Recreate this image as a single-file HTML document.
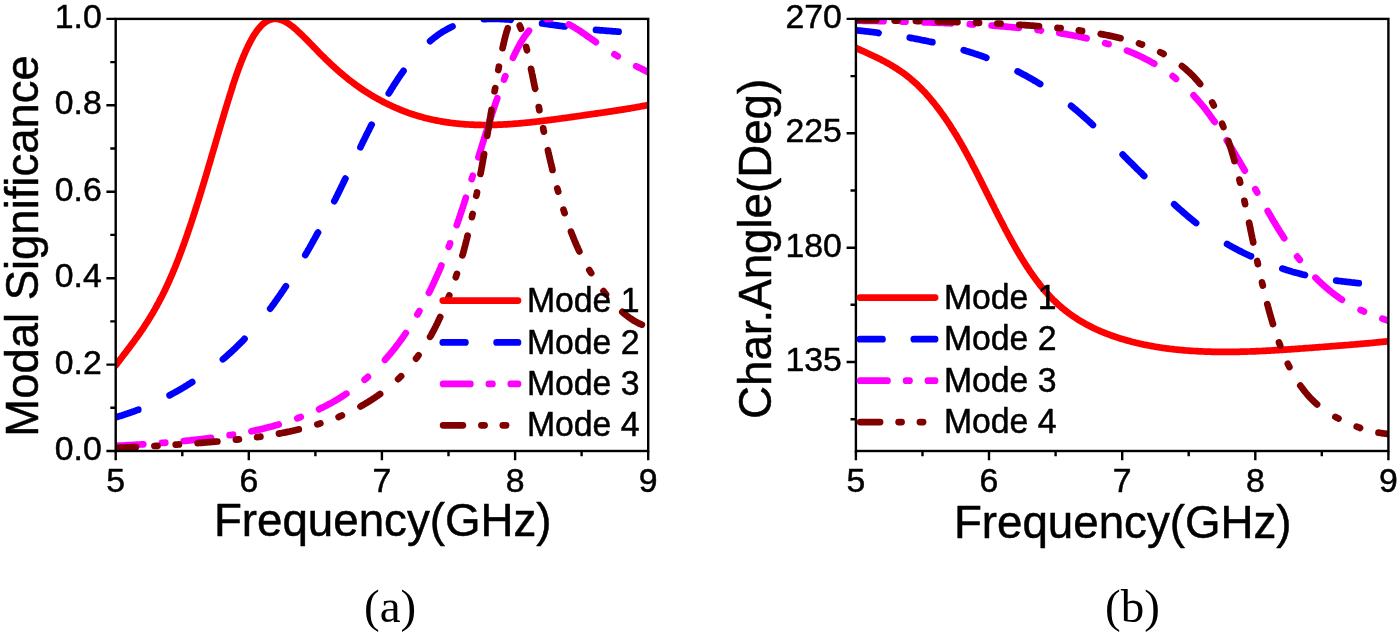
<!DOCTYPE html>
<html lang="en"><head><meta charset="utf-8"><title>Modal significance and characteristic angle</title>
<style>html,body{margin:0;padding:0;background:#fff}body{width:1400px;height:635px;overflow:hidden}svg{display:block}svg text{stroke:#000;stroke-width:.5px;stroke-linejoin:round}svg .cap text{stroke:none}</style>
</head><body>
<svg width="1400" height="635" viewBox="0 0 1400 635" font-family="'Liberation Sans', Arial, sans-serif">
<defs><clipPath id="ca"><rect x="115.7" y="18.9" width="532.5" height="432.1"/></clipPath><clipPath id="cb"><rect x="855.9" y="18.9" width="532.5" height="432.1"/></clipPath></defs>
<rect width="1400" height="635" fill="#fff"/>
<g clip-path="url(#ca)" fill="none" stroke-width="6.7" stroke-linecap="round" stroke-linejoin="round">
<path stroke="#ff0000" d="M115.7 365.4 L116.5 364.3 L117.3 363.3 L118.1 362.2 L118.9 361.2 L119.7 360.1 L120.5 359.1 L121.3 358.0 L122.1 357.0 L122.9 355.9 L123.7 354.9 L124.5 353.8 L125.3 352.8 L126.1 351.8 L126.9 350.7 L127.7 349.7 L128.5 348.6 L129.3 347.6 L130.1 346.5 L130.9 345.4 L131.7 344.4 L132.5 343.3 L133.3 342.2 L134.1 341.1 L134.9 340.0 L135.7 338.9 L136.5 337.8 L137.3 336.7 L138.1 335.6 L138.9 334.5 L139.7 333.3 L140.5 332.2 L141.3 331.0 L142.1 329.8 L142.9 328.7 L143.7 327.5 L144.3 326.5 L145.0 325.4 L145.7 324.4 L146.3 323.4 L147.0 322.4 L147.7 321.3 L148.3 320.3 L149.0 319.2 L149.6 318.1 L150.3 317.0 L151.0 315.9 L151.6 314.8 L152.3 313.7 L153.0 312.6 L153.6 311.4 L154.3 310.3 L155.0 309.1 L155.6 307.9 L156.3 306.7 L157.0 305.5 L157.6 304.3 L158.3 303.1 L159.0 301.8 L159.5 300.8 L160.0 299.8 L160.6 298.8 L161.1 297.7 L161.6 296.7 L162.2 295.7 L162.7 294.6 L163.2 293.5 L163.8 292.4 L164.3 291.4 L164.8 290.3 L165.4 289.2 L165.9 288.0 L166.4 286.9 L167.0 285.8 L167.5 284.6 L168.0 283.5 L168.6 282.3 L169.1 281.1 L169.6 279.9 L170.1 278.7 L170.7 277.5 L171.2 276.3 L171.7 275.1 L172.3 273.8 L172.8 272.6 L173.3 271.3 L173.9 270.0 L174.4 268.8 L174.9 267.5 L175.5 266.2 L176.0 264.8 L176.5 263.5 L176.9 262.5 L177.3 261.5 L177.7 260.5 L178.1 259.5 L178.5 258.4 L178.9 257.4 L179.3 256.3 L179.7 255.3 L180.1 254.2 L180.5 253.2 L180.9 252.1 L181.3 251.0 L181.7 250.0 L182.1 248.9 L182.5 247.8 L182.9 246.7 L183.3 245.6 L183.7 244.5 L184.1 243.4 L184.5 242.3 L184.9 241.1 L185.3 240.0 L185.7 238.9 L186.1 237.7 L186.5 236.6 L186.9 235.4 L187.3 234.3 L187.7 233.1 L188.1 232.0 L188.5 230.8 L188.9 229.6 L189.3 228.4 L189.7 227.2 L190.1 226.1 L190.5 224.9 L190.9 223.7 L191.3 222.5 L191.7 221.2 L192.1 220.0 L192.5 218.8 L192.9 217.6 L193.3 216.4 L193.7 215.1 L194.1 213.9 L194.5 212.6 L194.9 211.4 L195.3 210.1 L195.7 208.9 L196.1 207.6 L196.5 206.4 L196.9 205.1 L197.3 203.8 L197.7 202.6 L198.1 201.3 L198.5 200.0 L198.9 198.7 L199.3 197.4 L199.7 196.1 L200.1 194.8 L200.5 193.5 L200.9 192.2 L201.3 190.9 L201.7 189.6 L202.1 188.3 L202.5 187.0 L202.9 185.7 L203.3 184.3 L203.7 183.0 L204.1 181.7 L204.5 180.4 L204.9 179.0 L205.3 177.7 L205.7 176.4 L206.1 175.0 L206.5 173.7 L206.9 172.3 L207.3 171.0 L207.7 169.6 L208.1 168.3 L208.5 166.9 L208.9 165.6 L209.3 164.2 L209.7 162.9 L210.1 161.5 L210.5 160.2 L210.9 158.8 L211.3 157.4 L211.7 156.1 L212.1 154.7 L212.5 153.3 L212.9 152.0 L213.3 150.6 L213.7 149.3 L214.1 147.9 L214.5 146.5 L214.9 145.2 L215.3 143.8 L215.7 142.4 L216.1 141.1 L216.5 139.7 L216.9 138.3 L217.3 137.0 L217.7 135.6 L218.1 134.2 L218.5 132.9 L218.9 131.5 L219.3 130.1 L219.7 128.8 L220.1 127.4 L220.5 126.1 L220.9 124.7 L221.3 123.3 L221.7 122.0 L222.1 120.6 L222.5 119.3 L222.9 118.0 L223.3 116.6 L223.7 115.3 L224.1 113.9 L224.5 112.6 L224.9 111.3 L225.3 109.9 L225.7 108.6 L226.1 107.3 L226.5 106.0 L226.9 104.7 L227.3 103.3 L227.7 102.0 L228.1 100.7 L228.5 99.5 L228.9 98.2 L229.3 96.9 L229.7 95.6 L230.1 94.3 L230.5 93.1 L230.9 91.8 L231.3 90.6 L231.7 89.3 L232.1 88.1 L232.5 86.9 L232.8 85.6 L233.2 84.4 L233.6 83.2 L234.0 82.0 L234.4 80.8 L234.8 79.6 L235.2 78.5 L235.6 77.3 L236.0 76.1 L236.4 75.0 L236.8 73.8 L237.2 72.7 L237.6 71.6 L238.0 70.5 L238.4 69.4 L238.8 68.3 L239.2 67.2 L239.6 66.1 L240.0 65.1 L240.4 64.0 L240.8 63.0 L241.2 61.9 L241.6 60.9 L242.0 59.9 L242.6 58.6 L243.1 57.3 L243.6 56.0 L244.2 54.7 L244.7 53.5 L245.2 52.2 L245.8 51.0 L246.3 49.8 L246.8 48.7 L247.4 47.5 L247.9 46.4 L248.4 45.3 L249.0 44.2 L249.5 43.2 L250.0 42.2 L250.6 41.1 L251.2 39.9 L251.9 38.7 L252.6 37.6 L253.2 36.4 L253.9 35.3 L254.5 34.3 L255.2 33.3 L256.0 32.1 L256.8 31.0 L257.6 29.9 L258.4 28.9 L259.3 27.8 L260.3 26.7 L261.3 25.6 L262.4 24.6 L263.5 23.6 L264.5 22.8 L265.6 22.0 L266.7 21.4 L267.7 20.8 L268.8 20.3 L269.9 19.8 L270.9 19.5 L272.0 19.2 L273.1 19.0 L274.1 18.9 L275.2 18.9 L276.2 18.9 L277.3 19.0 L278.4 19.2 L279.4 19.4 L280.5 19.7 L281.6 20.1 L282.6 20.5 L283.7 21.0 L284.8 21.5 L285.8 22.0 L286.9 22.6 L288.0 23.3 L289.0 24.0 L290.1 24.8 L291.2 25.5 L292.2 26.3 L293.3 27.2 L294.4 28.1 L295.4 29.0 L296.5 29.9 L297.5 30.9 L298.6 31.9 L299.7 32.9 L300.7 33.9 L301.8 34.9 L302.9 36.0 L303.9 37.0 L305.0 38.1 L306.1 39.2 L307.1 40.2 L308.2 41.3 L309.3 42.4 L310.3 43.5 L311.4 44.6 L312.5 45.7 L313.5 46.8 L314.6 47.9 L315.7 49.0 L316.7 50.1 L317.8 51.2 L318.8 52.3 L319.9 53.4 L321.0 54.4 L322.0 55.5 L323.1 56.6 L324.2 57.6 L325.2 58.7 L326.3 59.7 L327.4 60.7 L328.4 61.8 L329.5 62.8 L330.6 63.8 L331.6 64.8 L332.7 65.8 L333.8 66.7 L334.8 67.7 L335.9 68.7 L337.0 69.6 L338.0 70.6 L339.1 71.5 L340.1 72.4 L341.2 73.3 L342.3 74.2 L343.3 75.1 L344.4 76.0 L345.5 76.9 L346.5 77.7 L347.6 78.6 L348.7 79.5 L349.7 80.3 L350.8 81.1 L351.9 81.9 L352.9 82.7 L354.0 83.5 L355.1 84.3 L356.1 85.1 L357.2 85.9 L358.3 86.6 L359.3 87.4 L360.4 88.1 L361.4 88.9 L362.5 89.6 L363.6 90.3 L364.6 91.0 L365.7 91.7 L366.8 92.4 L367.8 93.0 L368.9 93.7 L370.0 94.4 L371.0 95.0 L372.1 95.7 L373.2 96.3 L374.2 96.9 L375.3 97.5 L376.4 98.1 L377.4 98.7 L378.5 99.3 L379.6 99.9 L380.6 100.5 L381.7 101.0 L382.7 101.6 L383.8 102.1 L384.9 102.7 L385.9 103.2 L387.0 103.7 L388.1 104.3 L389.1 104.8 L390.2 105.3 L391.3 105.8 L392.3 106.3 L393.4 106.8 L394.5 107.2 L395.5 107.7 L396.6 108.2 L397.7 108.6 L398.7 109.1 L399.8 109.5 L400.9 109.9 L401.9 110.4 L403.0 110.8 L404.0 111.2 L405.1 111.6 L406.2 112.0 L407.2 112.4 L408.3 112.8 L409.4 113.2 L410.4 113.5 L411.5 113.9 L412.6 114.2 L413.6 114.6 L414.7 114.9 L415.8 115.3 L416.8 115.6 L417.9 115.9 L419.0 116.2 L420.0 116.5 L421.1 116.8 L422.2 117.1 L423.2 117.4 L424.3 117.7 L425.3 118.0 L426.4 118.3 L427.5 118.5 L428.5 118.8 L429.6 119.0 L430.7 119.3 L431.7 119.5 L432.8 119.8 L433.9 120.0 L434.9 120.2 L436.0 120.4 L437.1 120.6 L438.1 120.8 L439.2 121.0 L440.3 121.2 L441.3 121.4 L442.4 121.6 L443.5 121.8 L444.5 121.9 L445.6 122.1 L446.6 122.3 L447.7 122.4 L448.8 122.6 L449.8 122.7 L450.9 122.9 L452.0 123.0 L453.0 123.1 L454.1 123.3 L455.2 123.4 L456.2 123.5 L457.3 123.6 L458.4 123.7 L459.4 123.8 L460.5 123.9 L461.6 124.0 L462.6 124.1 L463.7 124.2 L464.8 124.3 L465.8 124.3 L466.9 124.4 L467.9 124.5 L469.0 124.5 L470.1 124.6 L471.1 124.6 L472.2 124.7 L473.3 124.7 L474.3 124.8 L475.4 124.8 L476.5 124.9 L477.5 124.9 L478.6 124.9 L479.7 124.9 L480.7 124.9 L481.8 125.0 L482.9 125.0 L483.9 125.0 L485.0 125.0 L486.1 125.0 L487.1 125.0 L488.2 125.0 L489.2 124.9 L490.3 124.9 L491.4 124.9 L492.4 124.9 L493.5 124.9 L494.6 124.8 L495.6 124.8 L496.7 124.8 L497.8 124.7 L498.8 124.7 L499.9 124.6 L501.0 124.6 L502.0 124.6 L503.1 124.5 L504.2 124.4 L505.2 124.4 L506.3 124.3 L507.4 124.3 L508.4 124.2 L509.5 124.1 L510.5 124.1 L511.6 124.0 L512.7 123.9 L513.7 123.8 L514.8 123.7 L515.9 123.7 L516.9 123.6 L518.0 123.5 L519.1 123.4 L520.1 123.3 L521.2 123.2 L522.3 123.1 L523.3 123.0 L524.4 122.9 L525.5 122.8 L526.5 122.7 L527.6 122.6 L528.7 122.5 L529.7 122.4 L530.8 122.3 L531.8 122.1 L532.9 122.0 L534.0 121.9 L535.0 121.8 L536.1 121.7 L537.2 121.5 L538.2 121.4 L539.3 121.3 L540.4 121.2 L541.4 121.0 L542.5 120.9 L543.6 120.8 L544.6 120.6 L545.7 120.5 L546.8 120.4 L547.8 120.2 L548.9 120.1 L550.0 120.0 L551.0 119.8 L552.1 119.7 L553.1 119.5 L554.2 119.4 L555.3 119.3 L556.3 119.1 L557.4 119.0 L558.5 118.8 L559.5 118.7 L560.6 118.5 L561.7 118.4 L562.7 118.2 L563.8 118.1 L564.9 118.0 L565.9 117.8 L567.0 117.7 L568.1 117.5 L569.1 117.4 L570.2 117.2 L571.3 117.1 L572.3 116.9 L573.4 116.8 L574.4 116.6 L575.5 116.5 L576.6 116.3 L577.6 116.2 L578.7 116.0 L579.8 115.9 L580.8 115.7 L581.9 115.5 L583.0 115.4 L584.0 115.2 L585.1 115.1 L586.2 114.9 L587.2 114.8 L588.3 114.6 L589.4 114.5 L590.4 114.3 L591.5 114.2 L592.6 114.0 L593.6 113.9 L594.7 113.7 L595.7 113.6 L596.8 113.4 L597.9 113.3 L598.9 113.1 L600.0 113.0 L601.1 112.8 L602.1 112.7 L603.2 112.5 L604.3 112.4 L605.3 112.2 L606.4 112.1 L607.5 111.9 L608.5 111.7 L609.6 111.6 L610.7 111.4 L611.7 111.3 L612.8 111.1 L613.9 110.9 L614.9 110.8 L616.0 110.6 L617.0 110.4 L618.1 110.3 L619.2 110.1 L620.2 109.9 L621.3 109.8 L622.4 109.6 L623.4 109.4 L624.5 109.3 L625.6 109.1 L626.6 108.9 L627.7 108.7 L628.8 108.6 L629.8 108.4 L630.9 108.2 L632.0 108.0 L633.0 107.8 L634.1 107.7 L635.2 107.5 L636.2 107.3 L637.3 107.1 L638.3 106.9 L639.4 106.7 L640.5 106.5 L641.5 106.3 L642.6 106.1 L643.7 105.9 L644.7 105.7 L645.8 105.5 L646.9 105.3 L647.9 105.1 L648.2 105.1"/>
<path stroke="#0000ff" d="M115.7 417.3 L116.8 417.0 L117.8 416.7 L118.9 416.3 L120.0 416.0 L121.0 415.7 L122.1 415.4 L123.2 415.0 L124.2 414.7 L125.3 414.3 L126.4 414.0 L127.4 413.6 L128.5 413.3 L129.5 412.9 L130.6 412.5 L131.7 412.1 L132.7 411.7 L133.8 411.4 L134.9 411.0 L135.9 410.6 L137.0 410.2 L138.1 409.7 L138.3 409.7 M169.6 395.3 L170.7 394.7 L171.7 394.1 L172.8 393.5 L173.9 393.0 L174.9 392.4 L176.0 391.8 L177.1 391.2 L178.1 390.6 L179.2 390.0 L180.3 389.4 L181.3 388.7 L182.4 388.1 L183.5 387.5 L184.5 386.9 L185.6 386.2 L186.7 385.6 L187.7 384.9 L188.8 384.2 L189.9 383.6 L190.9 382.9 L192.0 382.2 L192.2 382.1 M222.9 359.3 L224.1 358.3 L225.1 357.4 L226.2 356.5 L227.3 355.5 L228.3 354.6 L229.4 353.6 L230.5 352.7 L231.5 351.7 L232.6 350.7 L233.6 349.7 L234.7 348.7 L235.8 347.7 L236.8 346.7 L237.9 345.6 L239.0 344.6 L240.0 343.5 L241.1 342.5 L242.2 341.4 L243.2 340.3 L244.3 339.2 L244.5 338.9 M270.2 308.6 L271.1 307.5 L271.9 306.4 L272.7 305.3 L273.5 304.2 L274.3 303.1 L275.1 302.0 L275.8 300.9 L276.6 299.8 L277.4 298.6 L278.2 297.5 L279.0 296.4 L279.8 295.2 L280.6 294.1 L281.4 292.9 L282.2 291.7 L283.0 290.6 L283.8 289.4 L284.6 288.2 L285.4 287.0 L285.9 286.3 M305.3 255.1 L305.9 253.9 L306.6 252.7 L307.3 251.6 L307.9 250.4 L308.6 249.3 L309.3 248.1 L309.9 247.0 L310.6 245.8 L311.3 244.6 L311.9 243.4 L312.6 242.2 L313.3 241.0 L313.9 239.8 L314.6 238.7 L315.3 237.4 L315.9 236.2 L316.6 235.0 L317.3 233.8 L317.9 232.6 L318.0 232.5 M334.3 201.2 L334.8 200.1 L335.4 199.1 L335.9 198.0 L336.4 196.9 L337.0 195.9 L337.5 194.8 L338.0 193.7 L338.6 192.6 L339.1 191.5 L339.6 190.5 L340.1 189.4 L340.7 188.3 L341.2 187.2 L341.7 186.1 L342.3 185.0 L342.8 183.9 L343.3 182.8 L343.9 181.7 L344.4 180.6 L344.9 179.5 L345.4 178.6 M360.4 147.3 L360.9 146.2 L361.4 145.1 L362.0 144.0 L362.5 142.9 L363.0 141.8 L363.6 140.7 L364.1 139.7 L364.6 138.6 L365.2 137.5 L365.7 136.4 L366.2 135.3 L366.8 134.3 L367.3 133.2 L367.8 132.1 L368.4 131.1 L368.9 130.0 L369.4 128.9 L370.0 127.9 L370.5 126.8 L371.0 125.8 L371.6 124.7 L371.6 124.7 M388.8 93.4 L389.5 92.2 L390.2 91.1 L390.9 90.0 L391.5 88.9 L392.2 87.8 L392.9 86.8 L393.5 85.7 L394.2 84.7 L394.9 83.6 L395.5 82.6 L396.2 81.6 L396.9 80.6 L397.5 79.6 L398.3 78.4 L399.1 77.2 L399.9 76.0 L400.7 74.9 L401.5 73.7 L402.3 72.6 L403.1 71.5 L403.5 70.9 M430.1 41.1 L431.2 40.2 L432.3 39.3 L433.3 38.4 L434.4 37.6 L435.5 36.8 L436.5 36.0 L437.6 35.2 L438.7 34.4 L439.7 33.7 L440.8 33.0 L441.9 32.3 L442.9 31.6 L444.0 31.0 L445.1 30.4 L446.1 29.8 L447.2 29.2 L448.2 28.6 L449.3 28.1 L450.4 27.5 L451.4 27.0 L452.5 26.5 M483.8 19.2 L484.9 19.1 L485.9 19.1 L487.0 19.0 L488.1 19.0 L488.2 19.0 M488.2 19.0 L489.2 19.0 L490.3 18.9 L491.4 18.9 L492.4 18.9 L493.5 18.9 L494.6 18.9 L495.6 18.9 L496.7 18.9 L497.8 19.0 L498.8 19.0 L499.9 19.0 L501.0 19.1 L502.0 19.1 L503.1 19.2 L504.2 19.2 L505.2 19.3 L506.3 19.3 L507.4 19.4 L508.4 19.5 L509.5 19.6 L510.5 19.6 L510.8 19.7 M542.1 23.4 L543.2 23.5 L544.2 23.7 L545.3 23.8 L546.4 24.0 L547.4 24.1 L548.5 24.3 L549.6 24.4 L550.6 24.6 L551.7 24.7 L552.7 24.9 L553.8 25.0 L554.9 25.2 L555.9 25.3 L557.0 25.4 L558.1 25.6 L559.1 25.7 L560.2 25.9 L561.3 26.0 L562.3 26.2 L563.4 26.3 L564.5 26.5 L564.7 26.5 M596.0 29.9 L597.1 30.0 L598.1 30.1 L599.2 30.2 L600.3 30.3 L601.3 30.3 L602.4 30.4 L603.5 30.5 L604.5 30.6 L605.6 30.7 L606.7 30.8 L607.7 30.9 L608.8 30.9 L609.9 31.0 L610.9 31.1 L612.0 31.2 L613.1 31.3 L614.1 31.4 L615.2 31.4 L616.2 31.5 L617.3 31.6 L618.4 31.7 L618.6 31.7"/>
<path stroke="#ff00ff" d="M116.0 445.8 L117.0 445.8 L118.1 445.7 L119.2 445.7 L120.2 445.6 L121.3 445.6 L122.4 445.5 L123.4 445.5 L124.5 445.4 L125.6 445.3 L126.6 445.3 L127.7 445.2 L128.7 445.2 L129.8 445.1 L130.9 445.0 L131.9 445.0 L133.0 444.9 L134.1 444.8 L135.1 444.8 L136.2 444.7 L137.3 444.7 L138.3 444.6 L139.4 444.5 L140.5 444.5 L141.5 444.4 L142.6 444.3 L143.3 444.3 M161.9 442.9 L163.0 442.9 L164.0 442.8 L165.1 442.7 L165.3 442.7 M183.7 441.0 L184.8 440.9 L185.9 440.8 L186.9 440.7 L188.0 440.6 L189.1 440.5 L190.1 440.4 L191.2 440.2 L192.2 440.1 L193.3 440.0 L194.4 439.9 L195.4 439.8 L196.5 439.7 L197.6 439.5 L198.6 439.4 L199.7 439.3 L200.8 439.2 L201.8 439.0 L202.9 438.9 L204.0 438.8 L205.0 438.7 L206.1 438.5 L207.2 438.4 L208.2 438.3 L209.3 438.1 L210.4 438.0 L211.0 437.9 M229.6 435.2 L230.7 435.1 L231.8 434.9 L232.8 434.7 L233.0 434.7 M251.4 431.3 L252.4 431.1 L253.5 430.8 L254.5 430.6 L255.6 430.4 L256.7 430.1 L257.7 429.9 L258.8 429.7 L259.9 429.4 L260.9 429.2 L262.0 428.9 L263.1 428.7 L264.1 428.4 L265.2 428.1 L266.3 427.9 L267.3 427.6 L268.4 427.3 L269.5 427.1 L270.5 426.8 L271.6 426.5 L272.7 426.2 L273.7 425.9 L274.8 425.6 L275.8 425.3 L276.9 425.0 L278.0 424.7 L278.7 424.5 M297.3 418.3 L298.3 417.9 L299.4 417.5 L300.5 417.1 L300.7 417.0 M319.1 409.2 L320.2 408.6 L321.2 408.1 L322.3 407.6 L323.4 407.1 L324.4 406.5 L325.5 406.0 L326.6 405.4 L327.6 404.9 L328.7 404.3 L329.8 403.7 L330.8 403.2 L331.9 402.6 L333.0 402.0 L334.0 401.4 L335.1 400.8 L336.2 400.1 L337.2 399.5 L338.3 398.9 L339.3 398.2 L340.4 397.6 L341.5 396.9 L342.5 396.2 L343.6 395.5 L344.7 394.8 L345.7 394.1 L346.4 393.7 M364.6 379.8 L365.7 378.8 L366.8 377.9 L367.8 377.0 L367.9 376.9 M385.0 359.8 L385.9 358.7 L386.9 357.7 L387.8 356.6 L388.7 355.5 L389.7 354.4 L390.6 353.3 L391.5 352.2 L392.5 351.1 L393.4 349.9 L394.3 348.8 L395.1 347.8 L395.9 346.7 L396.7 345.7 L397.5 344.7 L398.3 343.6 L399.1 342.5 L399.9 341.4 L400.7 340.4 L401.5 339.3 L402.3 338.1 L403.1 337.0 L403.9 335.9 L404.7 334.7 L405.5 333.5 L405.8 333.0 M417.4 314.5 L418.0 313.5 L418.7 312.3 L419.4 311.1 M429.0 292.7 L429.6 291.6 L430.1 290.5 L430.7 289.4 L431.2 288.3 L431.7 287.1 L432.3 286.0 L432.8 284.9 L433.3 283.8 L433.9 282.6 L434.4 281.4 L434.9 280.3 L435.5 279.1 L436.0 277.9 L436.5 276.7 L437.1 275.5 L437.6 274.3 L438.1 273.1 L438.7 271.9 L439.2 270.7 L439.7 269.4 L440.3 268.2 L440.8 266.9 L441.3 265.6 L441.4 265.4 M448.8 246.8 L449.3 245.6 L449.7 244.5 L450.1 243.5 L450.1 243.4 M456.8 225.0 L457.2 223.9 L457.6 222.7 L458.0 221.5 L458.4 220.4 L458.8 219.2 L459.2 218.0 L459.6 216.9 L460.0 215.7 L460.4 214.5 L460.8 213.3 L461.2 212.1 L461.6 210.9 L462.0 209.7 L462.4 208.5 L462.8 207.3 L463.2 206.0 L463.6 204.8 L464.0 203.6 L464.4 202.3 L464.8 201.1 L465.2 199.9 L465.6 198.6 L465.8 197.7 M471.7 179.1 L472.1 177.9 L472.5 176.6 L472.7 175.7 M478.4 157.3 L478.7 156.2 L479.1 154.9 L479.5 153.6 L479.9 152.3 L480.3 151.1 L480.7 149.8 L481.1 148.5 L481.5 147.2 L481.9 145.9 L482.3 144.6 L482.7 143.3 L483.1 142.0 L483.5 140.7 L483.9 139.4 L484.3 138.1 L484.7 136.8 L485.1 135.6 L485.5 134.3 L485.9 133.0 L486.3 131.7 L486.7 130.5 L486.9 130.0 M488.3 125.5 L488.7 124.2 L489.1 122.9 L489.5 121.7 L489.9 120.4 L490.3 119.2 L490.7 117.9 L491.1 116.7 L491.5 115.5 L491.9 114.2 L492.3 113.0 L492.7 111.8 L493.1 110.6 L493.5 109.4 L493.9 108.2 L494.3 107.0 L494.7 105.8 L495.1 104.6 L495.5 103.4 L495.9 102.2 L496.3 101.0 L496.7 99.9 L497.1 98.7 L497.3 98.2 M504.0 79.6 L504.4 78.4 L504.8 77.4 L505.2 76.3 L505.3 76.2 M513.0 57.8 L513.5 56.8 L514.0 55.6 L514.5 54.5 L515.1 53.4 L515.6 52.3 L516.1 51.2 L516.7 50.2 L517.2 49.1 L517.7 48.1 L518.3 47.1 L518.9 45.9 L519.6 44.7 L520.3 43.5 L520.9 42.3 L521.6 41.2 L522.3 40.1 L522.9 39.1 L523.6 38.0 L524.3 37.0 L525.1 35.8 L525.9 34.7 L526.7 33.6 L527.5 32.6 L528.3 31.6 L529.0 30.7 M547.0 19.1 L548.1 19.0 L549.2 18.9 L550.2 18.9 L550.4 18.9 M568.8 24.4 L569.9 24.9 L571.0 25.5 L572.1 26.1 L573.1 26.7 L574.2 27.4 L575.2 28.0 L576.3 28.7 L577.4 29.4 L578.4 30.0 L579.5 30.7 L580.6 31.4 L581.6 32.2 L582.7 32.9 L583.8 33.6 L584.8 34.3 L585.9 35.1 L587.0 35.8 L588.0 36.6 L589.1 37.3 L590.2 38.0 L591.2 38.8 L592.3 39.5 L593.4 40.3 L594.4 41.0 L595.5 41.8 L595.9 42.1 M614.4 54.3 L615.5 54.9 L616.5 55.5 L617.6 56.2 L617.8 56.3 M636.2 66.2 L637.3 66.7 L638.3 67.2 L639.4 67.8 L640.5 68.3 L641.5 68.8 L642.6 69.4 L643.7 69.9 L644.7 70.4 L645.8 70.9 L646.9 71.5 L647.9 72.0 L648.2 72.2"/>
<path stroke="#800000" d="M116.1 447.9 L117.2 447.9 L118.2 447.8 L119.3 447.8 L120.4 447.7 L121.4 447.7 L122.5 447.6 L123.6 447.6 L124.6 447.5 L125.7 447.5 L126.7 447.4 L127.8 447.4 L128.9 447.3 L129.9 447.3 L131.0 447.2 L132.1 447.2 L133.1 447.1 L134.2 447.1 L135.3 447.0 L135.9 447.0 M154.4 446.0 L155.5 445.9 L156.6 445.9 L157.5 445.8 M175.7 444.7 L176.8 444.6 L177.9 444.5 L178.9 444.4 L179.0 444.4 M197.6 443.1 L198.6 443.0 L199.7 442.9 L200.8 442.8 L201.8 442.8 L202.9 442.7 L204.0 442.6 L205.0 442.5 L206.1 442.4 L207.2 442.3 L208.2 442.2 L209.3 442.1 L210.4 442.1 L211.4 442.0 L212.5 441.9 L213.5 441.8 L214.6 441.7 L215.7 441.6 L216.7 441.5 L217.4 441.5 M235.9 439.7 L237.0 439.6 L238.0 439.4 L238.9 439.3 M257.1 437.1 L258.3 437.0 L259.3 436.8 L260.4 436.7 L260.4 436.7 M279.0 433.6 L280.1 433.4 L281.2 433.2 L282.2 433.0 L283.3 432.8 L284.4 432.6 L285.4 432.4 L286.5 432.1 L287.6 431.9 L288.6 431.7 L289.7 431.5 L290.8 431.2 L291.8 431.0 L292.9 430.8 L294.0 430.5 L295.0 430.3 L296.1 430.0 L297.1 429.8 L298.2 429.5 L298.8 429.4 M317.3 424.4 L318.3 424.1 L319.4 423.7 L320.4 423.4 M338.6 416.9 L339.6 416.4 L340.7 416.0 L341.7 415.6 L341.9 415.5 M360.5 406.5 L361.6 405.8 L362.6 405.2 L363.7 404.6 L364.8 404.0 L365.8 403.4 L366.9 402.7 L368.0 402.1 L369.0 401.4 L370.1 400.7 L371.2 400.1 L372.2 399.4 L373.3 398.7 L374.4 398.0 L375.4 397.3 L376.5 396.5 L377.6 395.8 L378.6 395.1 L379.7 394.3 L380.1 394.0 M398.1 379.1 L399.3 378.0 L400.3 377.0 L401.1 376.2 M416.1 358.6 L417.0 357.4 L417.8 356.3 L418.5 355.3 M430.1 336.8 L430.8 335.7 L431.5 334.5 L432.1 333.2 L432.8 332.0 L433.3 331.0 L433.9 330.0 L434.4 329.0 L434.9 327.9 L435.5 326.9 L436.0 325.8 L436.5 324.7 L437.1 323.7 L437.6 322.6 L438.1 321.5 L438.7 320.3 L439.2 319.2 L439.7 318.1 L440.2 317.0 M448.1 298.5 L448.5 297.4 L448.9 296.4 L449.3 295.4 M455.8 277.2 L456.2 275.9 L456.6 274.7 L456.9 273.9 M462.4 255.4 L462.8 254.3 L463.2 252.8 L463.6 251.4 L464.0 249.9 L464.4 248.4 L464.6 247.4 L464.9 246.4 L465.2 245.4 L465.4 244.3 L465.7 243.3 L466.0 242.3 L466.2 241.2 L466.5 240.1 L466.8 239.1 L467.0 238.0 L467.3 236.9 L467.5 235.9 L467.6 235.6 M471.9 217.1 L472.2 215.6 L472.5 214.4 L472.6 214.0 M476.3 195.8 L476.6 194.5 L476.9 193.1 L477.0 192.5 M480.5 173.9 L480.7 172.8 L481.0 171.4 L481.3 169.9 L481.5 168.4 L481.8 166.9 L482.1 165.5 L482.3 164.0 L482.6 162.5 L482.9 161.0 L483.1 159.5 L483.4 158.0 L483.7 156.5 L483.9 154.9 L484.1 154.1 M487.2 135.6 L487.5 133.9 L487.8 132.5 M488.3 129.6 L488.5 128.4 L488.7 126.8 L489.0 125.2 L489.2 123.6 L489.5 122.0 L489.8 120.4 L490.0 118.8 L490.3 117.2 L490.6 115.6 L490.8 114.0 L491.1 112.4 L491.4 110.8 L491.5 109.8 M494.6 91.3 L494.8 90.1 L495.1 88.5 L495.2 88.2 M498.3 70.0 L498.6 68.7 L498.8 67.3 L498.9 66.7 M502.6 48.1 L502.8 47.0 L503.1 45.8 L503.4 44.6 L503.6 43.4 L503.9 42.2 L504.2 41.1 L504.4 40.0 L504.7 38.9 L505.0 37.8 L505.2 36.8 L505.5 35.7 L505.9 34.3 L506.3 32.9 L506.7 31.5 L507.1 30.2 L507.5 29.0 L507.7 28.3 M519.7 25.6 L520.3 26.9 L520.7 27.9 L521.0 28.7 M526.2 46.9 L526.5 48.4 L526.8 49.5 L527.0 50.2 M531.0 68.8 L531.3 70.2 L531.6 71.5 L531.8 72.8 L532.1 74.0 L532.4 75.3 L532.6 76.6 L532.9 77.9 L533.2 79.2 L533.4 80.6 L533.7 81.9 L534.0 83.2 L534.2 84.5 L534.5 85.8 L534.8 87.1 L535.0 88.5 L535.1 88.6 M538.8 107.1 L539.0 108.3 L539.3 109.6 L539.4 110.2 M543.2 128.4 L543.4 129.7 L543.7 130.9 L543.9 131.7 M547.9 150.2 L548.2 151.7 L548.5 152.9 L548.8 154.0 L549.0 155.2 L549.3 156.4 L549.6 157.5 L549.8 158.7 L550.1 159.8 L550.4 161.0 L550.6 162.1 L550.9 163.2 L551.2 164.3 L551.4 165.4 L551.7 166.6 L552.0 167.7 L552.2 168.8 L552.5 169.8 L552.5 170.0 M557.3 188.5 L557.7 189.9 L558.1 191.3 L558.2 191.6 M563.5 209.8 L563.9 211.1 L564.3 212.4 L564.6 213.1 M571.0 231.7 L571.5 233.0 L571.9 234.0 L572.3 235.0 L572.7 236.0 L573.1 237.0 L573.6 238.4 L574.2 239.7 L574.7 241.0 L575.2 242.2 L575.8 243.5 L576.3 244.7 L576.8 245.9 L577.4 247.1 L577.9 248.3 L578.4 249.4 L579.0 250.6 L579.4 251.5 M589.3 270.0 L589.9 271.0 L590.6 272.1 L591.2 273.1 M603.5 291.1 L604.4 292.3 L605.2 293.3 L606.0 294.3 L606.0 294.3 M622.3 311.9 L623.4 312.9 L624.5 313.8 L625.6 314.7 L626.6 315.6 L627.7 316.4 L628.8 317.2 L629.8 318.0 L630.9 318.7 L632.0 319.4 L633.0 320.1 L634.1 320.8 L635.2 321.4 L636.2 322.0 L637.3 322.6 L638.3 323.1 L639.4 323.6 L640.5 324.1 L641.5 324.6 L641.9 324.7"/>
</g>
<g stroke="#000" stroke-width="2.4" fill="none" stroke-linecap="butt">
<rect x="115.7" y="18.9" width="532.5" height="432.1"/>
<path d="M115.7 451.0V460.3M248.8 451.0V460.3M381.9 451.0V460.3M515.1 451.0V460.3M648.2 451.0V460.3M182.3 451.0V456.3M315.4 451.0V456.3M448.5 451.0V456.3M581.6 451.0V456.3M115.7 451.0H106.4M115.7 364.6H106.4M115.7 278.2H106.4M115.7 191.7H106.4M115.7 105.3H106.4M115.7 18.9H106.4M115.7 407.8H110.3M115.7 321.4H110.3M115.7 234.9H110.3M115.7 148.5H110.3M115.7 62.1H110.3"/>
</g>
<g font-size="33.8" fill="#000">
<text transform="translate(115.7 491.9) scale(1 1.01)" text-anchor="middle">5</text>
<text transform="translate(248.8 491.9) scale(1 1.01)" text-anchor="middle">6</text>
<text transform="translate(381.9 491.9) scale(1 1.01)" text-anchor="middle">7</text>
<text transform="translate(515.1 491.9) scale(1 1.01)" text-anchor="middle">8</text>
<text transform="translate(648.2 491.9) scale(1 1.01)" text-anchor="middle">9</text>
<text transform="translate(101.7 459.9) scale(1 1.01)" text-anchor="end">0.0</text>
<text transform="translate(101.7 373.5) scale(1 1.01)" text-anchor="end">0.2</text>
<text transform="translate(101.7 287.1) scale(1 1.01)" text-anchor="end">0.4</text>
<text transform="translate(101.7 200.6) scale(1 1.01)" text-anchor="end">0.6</text>
<text transform="translate(101.7 114.2) scale(1 1.01)" text-anchor="end">0.8</text>
<text transform="translate(101.7 27.8) scale(1 1.01)" text-anchor="end">1.0</text>
</g>
<g fill="none" stroke-width="6.7" stroke-linecap="round">
<path stroke="#ff0000" d="M442.8 300.6H518.0"/>
<path stroke="#0000ff" d="M442.8 342.4H465.4M496.6 342.4H518.0"/>
<path stroke="#ff00ff" d="M443.1 383.9H470.4M488.9 383.9H492.4M510.8 383.9H518.0"/>
<path stroke="#800000" d="M443.1 425.3H462.9M481.4 425.3H484.6M502.8 425.3H506.1"/>
</g>
<g font-size="33.8" fill="#000">
<text transform="translate(526.9 311.7) scale(1 1.02)">Mode 1</text>
<text transform="translate(526.9 353.5) scale(1 1.02)">Mode 2</text>
<text transform="translate(526.9 395.0) scale(1 1.02)">Mode 3</text>
<text transform="translate(526.9 436.4) scale(1 1.02)">Mode 4</text>
</g>
<text font-size="45.7" transform="translate(382.7 536.2) scale(1 1.02)" text-anchor="middle">Frequency(GHz)</text>
<text font-size="45.45" transform="translate(37.9 246.0) rotate(-90) scale(1 1.02)" text-anchor="middle">Modal Significance</text>
<g clip-path="url(#cb)" fill="none" stroke-width="6.7" stroke-linecap="round" stroke-linejoin="round">
<path stroke="#ff0000" d="M855.9 48.0 L857.0 48.4 L858.0 48.9 L859.1 49.4 L860.2 49.9 L861.2 50.4 L862.3 50.8 L863.4 51.3 L864.4 51.8 L865.5 52.3 L866.5 52.8 L867.6 53.3 L868.7 53.7 L869.7 54.2 L870.8 54.7 L871.9 55.2 L872.9 55.7 L874.0 56.2 L875.1 56.7 L876.1 57.2 L877.2 57.8 L878.3 58.3 L879.3 58.8 L880.4 59.3 L881.5 59.9 L882.5 60.4 L883.6 61.0 L884.7 61.5 L885.7 62.1 L886.8 62.7 L887.9 63.3 L888.9 63.9 L890.0 64.5 L891.0 65.1 L892.1 65.8 L893.2 66.4 L894.2 67.1 L895.3 67.7 L896.4 68.4 L897.4 69.1 L898.5 69.8 L899.6 70.5 L900.6 71.2 L901.7 72.0 L902.8 72.7 L903.8 73.5 L904.9 74.3 L906.0 75.1 L907.0 75.9 L908.1 76.8 L909.2 77.6 L910.2 78.5 L911.3 79.4 L912.3 80.3 L913.4 81.2 L914.5 82.2 L915.5 83.2 L916.6 84.1 L917.7 85.1 L918.7 86.2 L919.8 87.2 L920.9 88.3 L921.9 89.4 L923.0 90.5 L924.1 91.6 L925.0 92.6 L925.9 93.6 L926.9 94.7 L927.8 95.7 L928.7 96.8 L929.7 97.9 L930.6 99.0 L931.5 100.1 L932.4 101.2 L933.4 102.3 L934.3 103.5 L935.1 104.5 L935.9 105.5 L936.7 106.5 L937.5 107.6 L938.3 108.6 L939.1 109.7 L939.9 110.8 L940.7 111.9 L941.5 113.0 L942.3 114.1 L943.1 115.2 L943.9 116.3 L944.7 117.5 L945.5 118.6 L946.3 119.8 L947.1 121.0 L947.9 122.2 L948.6 123.2 L949.2 124.2 L949.9 125.2 L950.6 126.2 L951.2 127.3 L951.9 128.3 L952.5 129.4 L953.2 130.4 L953.9 131.5 L954.5 132.6 L955.2 133.6 L955.9 134.7 L956.5 135.8 L957.2 136.9 L957.9 138.1 L958.5 139.2 L959.2 140.3 L959.9 141.5 L960.5 142.6 L961.2 143.8 L961.9 144.9 L962.5 146.1 L963.2 147.3 L963.9 148.5 L964.5 149.7 L965.2 150.9 L965.9 152.1 L966.5 153.3 L967.2 154.6 L967.9 155.8 L968.5 157.0 L969.2 158.3 L969.7 159.3 L970.3 160.3 L970.8 161.3 L971.3 162.3 L971.9 163.3 L972.4 164.4 L972.9 165.4 L973.4 166.4 L974.0 167.4 L974.5 168.5 L975.0 169.5 L975.6 170.5 L976.1 171.6 L976.6 172.6 L977.2 173.7 L977.7 174.7 L978.2 175.8 L978.8 176.8 L979.3 177.9 L979.8 178.9 L980.4 180.0 L980.9 181.0 L981.4 182.1 L982.0 183.2 L982.5 184.2 L983.0 185.3 L983.6 186.4 L984.1 187.4 L984.6 188.5 L985.2 189.5 L985.7 190.6 L986.2 191.7 L986.8 192.7 L987.3 193.8 L987.8 194.9 L988.4 195.9 L988.9 197.0 L989.4 198.1 L990.0 199.1 L990.5 200.2 L991.0 201.3 L991.6 202.3 L992.1 203.4 L992.6 204.4 L993.2 205.5 L993.7 206.6 L994.2 207.6 L994.7 208.7 L995.3 209.7 L995.8 210.8 L996.3 211.8 L996.9 212.9 L997.4 213.9 L997.9 215.0 L998.5 216.0 L999.0 217.1 L999.5 218.1 L1000.1 219.1 L1000.6 220.2 L1001.1 221.2 L1001.7 222.2 L1002.2 223.3 L1002.7 224.3 L1003.3 225.3 L1003.8 226.3 L1004.3 227.4 L1004.9 228.4 L1005.4 229.4 L1005.9 230.4 L1006.5 231.4 L1007.0 232.4 L1007.7 233.6 L1008.3 234.9 L1009.0 236.1 L1009.7 237.3 L1010.3 238.6 L1011.0 239.8 L1011.7 241.0 L1012.3 242.2 L1013.0 243.4 L1013.7 244.6 L1014.3 245.7 L1015.0 246.9 L1015.7 248.1 L1016.3 249.2 L1017.0 250.4 L1017.6 251.5 L1018.3 252.7 L1019.0 253.8 L1019.6 254.9 L1020.3 256.0 L1021.0 257.1 L1021.6 258.2 L1022.3 259.3 L1023.0 260.4 L1023.6 261.4 L1024.3 262.5 L1025.0 263.6 L1025.6 264.6 L1026.3 265.6 L1027.0 266.7 L1027.6 267.7 L1028.3 268.7 L1029.1 269.9 L1029.9 271.1 L1030.7 272.2 L1031.5 273.4 L1032.3 274.5 L1033.1 275.7 L1033.9 276.8 L1034.7 277.9 L1035.5 279.0 L1036.3 280.1 L1037.1 281.1 L1037.9 282.2 L1038.7 283.2 L1039.5 284.3 L1040.3 285.3 L1041.2 286.4 L1042.1 287.6 L1043.1 288.7 L1044.0 289.8 L1044.9 290.9 L1045.9 292.0 L1046.8 293.0 L1047.7 294.1 L1048.7 295.1 L1049.7 296.2 L1050.8 297.3 L1051.9 298.4 L1052.9 299.5 L1054.0 300.6 L1055.1 301.6 L1056.1 302.6 L1057.2 303.6 L1058.2 304.6 L1059.3 305.5 L1060.4 306.4 L1061.4 307.4 L1062.5 308.3 L1063.6 309.1 L1064.6 310.0 L1065.7 310.8 L1066.8 311.7 L1067.8 312.5 L1068.9 313.3 L1070.0 314.0 L1071.0 314.8 L1072.1 315.6 L1073.2 316.3 L1074.2 317.0 L1075.3 317.7 L1076.4 318.4 L1077.4 319.1 L1078.5 319.8 L1079.5 320.4 L1080.6 321.1 L1081.7 321.7 L1082.7 322.3 L1083.8 322.9 L1084.9 323.5 L1085.9 324.1 L1087.0 324.7 L1088.1 325.3 L1089.1 325.8 L1090.2 326.4 L1091.3 326.9 L1092.3 327.4 L1093.4 328.0 L1094.5 328.5 L1095.5 329.0 L1096.6 329.5 L1097.7 330.0 L1098.7 330.4 L1099.8 330.9 L1100.8 331.4 L1101.9 331.8 L1103.0 332.2 L1104.0 332.7 L1105.1 333.1 L1106.2 333.5 L1107.2 333.9 L1108.3 334.3 L1109.4 334.7 L1110.4 335.1 L1111.5 335.5 L1112.6 335.9 L1113.6 336.3 L1114.7 336.6 L1115.8 337.0 L1116.8 337.3 L1117.9 337.7 L1119.0 338.0 L1120.0 338.4 L1121.1 338.7 L1122.2 339.0 L1123.2 339.3 L1124.3 339.6 L1125.3 340.0 L1126.4 340.3 L1127.5 340.6 L1128.5 340.8 L1129.6 341.1 L1130.7 341.4 L1131.7 341.7 L1132.8 342.0 L1133.9 342.2 L1134.9 342.5 L1136.0 342.8 L1137.1 343.0 L1138.1 343.3 L1139.2 343.5 L1140.3 343.8 L1141.3 344.0 L1142.4 344.2 L1143.5 344.5 L1144.5 344.7 L1145.6 344.9 L1146.6 345.1 L1147.7 345.3 L1148.8 345.5 L1149.8 345.7 L1150.9 345.9 L1152.0 346.1 L1153.0 346.3 L1154.1 346.5 L1155.2 346.7 L1156.2 346.9 L1157.3 347.0 L1158.4 347.2 L1159.4 347.4 L1160.5 347.5 L1161.6 347.7 L1162.6 347.9 L1163.7 348.0 L1164.8 348.2 L1165.8 348.3 L1166.9 348.5 L1167.9 348.6 L1169.0 348.7 L1170.1 348.9 L1171.1 349.0 L1172.2 349.1 L1173.3 349.2 L1174.3 349.4 L1175.4 349.5 L1176.5 349.6 L1177.5 349.7 L1178.6 349.8 L1179.7 349.9 L1180.7 350.0 L1181.8 350.1 L1182.9 350.2 L1183.9 350.3 L1185.0 350.4 L1186.1 350.5 L1187.1 350.5 L1188.2 350.6 L1189.2 350.7 L1190.3 350.8 L1191.4 350.8 L1192.4 350.9 L1193.5 351.0 L1194.6 351.0 L1195.6 351.1 L1196.7 351.2 L1197.8 351.2 L1198.8 351.3 L1199.9 351.3 L1201.0 351.4 L1202.0 351.4 L1203.1 351.5 L1204.2 351.5 L1205.2 351.6 L1206.3 351.6 L1207.4 351.6 L1208.4 351.7 L1209.5 351.7 L1210.5 351.7 L1211.6 351.8 L1212.7 351.8 L1213.7 351.8 L1214.8 351.8 L1215.9 351.8 L1216.9 351.9 L1218.0 351.9 L1219.1 351.9 L1220.1 351.9 L1221.2 351.9 L1222.3 351.9 L1223.3 351.9 L1224.4 351.9 L1225.5 351.9 L1226.5 351.9 L1227.6 351.9 L1228.7 351.9 L1229.7 351.9 L1230.8 351.9 L1231.8 351.9 L1232.9 351.9 L1234.0 351.9 L1235.0 351.8 L1236.1 351.8 L1237.2 351.8 L1238.2 351.8 L1239.3 351.8 L1240.4 351.7 L1241.4 351.7 L1242.5 351.7 L1243.6 351.7 L1244.6 351.6 L1245.7 351.6 L1246.8 351.6 L1247.8 351.5 L1248.9 351.5 L1250.0 351.5 L1251.0 351.4 L1252.1 351.4 L1253.1 351.4 L1254.2 351.3 L1255.3 351.3 L1256.3 351.2 L1257.4 351.2 L1258.5 351.1 L1259.5 351.1 L1260.6 351.0 L1261.7 351.0 L1262.7 350.9 L1263.8 350.9 L1264.9 350.8 L1265.9 350.8 L1267.0 350.7 L1268.1 350.7 L1269.1 350.6 L1270.2 350.6 L1271.3 350.5 L1272.3 350.4 L1273.4 350.4 L1274.4 350.3 L1275.5 350.2 L1276.6 350.2 L1277.6 350.1 L1278.7 350.1 L1279.8 350.0 L1280.8 349.9 L1281.9 349.9 L1283.0 349.8 L1284.0 349.7 L1285.1 349.7 L1286.2 349.6 L1287.2 349.5 L1288.3 349.4 L1289.4 349.4 L1290.4 349.3 L1291.5 349.2 L1292.6 349.2 L1293.6 349.1 L1294.7 349.0 L1295.7 348.9 L1296.8 348.9 L1297.9 348.8 L1298.9 348.7 L1300.0 348.6 L1301.1 348.5 L1302.1 348.5 L1303.2 348.4 L1304.3 348.3 L1305.3 348.2 L1306.4 348.2 L1307.5 348.1 L1308.5 348.0 L1309.6 347.9 L1310.7 347.8 L1311.7 347.8 L1312.8 347.7 L1313.8 347.6 L1314.9 347.5 L1316.0 347.4 L1317.0 347.4 L1318.1 347.3 L1319.2 347.2 L1320.2 347.1 L1321.3 347.0 L1322.4 347.0 L1323.4 346.9 L1324.5 346.8 L1325.6 346.7 L1326.6 346.6 L1327.7 346.6 L1328.8 346.5 L1329.8 346.4 L1330.9 346.3 L1332.0 346.2 L1333.0 346.1 L1334.1 346.1 L1335.2 346.0 L1336.2 345.9 L1337.3 345.8 L1338.3 345.7 L1339.4 345.7 L1340.5 345.6 L1341.5 345.5 L1342.6 345.4 L1343.7 345.3 L1344.7 345.2 L1345.8 345.2 L1346.9 345.1 L1347.9 345.0 L1349.0 344.9 L1350.1 344.8 L1351.1 344.7 L1352.2 344.6 L1353.3 344.5 L1354.3 344.5 L1355.4 344.4 L1356.5 344.3 L1357.5 344.2 L1358.6 344.1 L1359.6 344.0 L1360.7 343.9 L1361.8 343.8 L1362.8 343.7 L1363.9 343.6 L1365.0 343.5 L1366.0 343.4 L1367.1 343.4 L1368.2 343.3 L1369.2 343.2 L1370.3 343.1 L1371.4 343.0 L1372.4 342.9 L1373.5 342.8 L1374.6 342.7 L1375.6 342.5 L1376.7 342.4 L1377.8 342.3 L1378.8 342.2 L1379.9 342.1 L1380.9 342.0 L1382.0 341.9 L1383.1 341.8 L1384.1 341.7 L1385.2 341.6 L1386.3 341.5 L1387.3 341.3 L1388.4 341.2"/>
<path stroke="#0000ff" d="M855.9 30.3 L857.0 30.4 L858.0 30.5 L859.1 30.6 L860.2 30.7 L861.2 30.8 L862.3 30.9 L863.4 31.0 L864.4 31.2 L865.5 31.3 L866.5 31.4 L867.6 31.5 L868.7 31.6 L869.7 31.8 L870.8 31.9 L871.9 32.0 L872.9 32.1 L874.0 32.3 L875.1 32.4 L876.1 32.5 L877.2 32.7 L878.3 32.8 L878.5 32.9 M909.8 37.7 L910.9 37.9 L911.9 38.1 L913.0 38.3 L914.1 38.5 L915.1 38.7 L916.2 38.9 L917.3 39.1 L918.3 39.3 L919.4 39.5 L920.5 39.7 L921.5 40.0 L922.6 40.2 L923.7 40.4 L924.7 40.6 L925.8 40.8 L926.9 41.0 L927.9 41.3 L929.0 41.5 L930.1 41.7 L931.1 41.9 L932.2 42.2 L932.4 42.2 M963.7 50.2 L964.8 50.5 L965.9 50.9 L966.9 51.2 L968.0 51.5 L969.1 51.8 L970.1 52.2 L971.2 52.5 L972.3 52.8 L973.3 53.2 L974.4 53.5 L975.4 53.9 L976.5 54.2 L977.6 54.6 L978.6 55.0 L979.7 55.3 L980.8 55.7 L981.8 56.1 L982.9 56.4 L984.0 56.8 L985.0 57.2 L986.1 57.6 L986.3 57.7 M1017.6 71.4 L1018.7 71.9 L1019.8 72.5 L1020.8 73.0 L1021.9 73.6 L1023.0 74.2 L1024.0 74.7 L1025.1 75.3 L1026.2 75.9 L1027.2 76.5 L1028.3 77.1 L1029.4 77.7 L1030.4 78.3 L1031.5 78.9 L1032.6 79.5 L1033.6 80.1 L1034.7 80.8 L1035.8 81.4 L1036.8 82.0 L1037.9 82.7 L1038.9 83.3 L1040.0 84.0 L1040.2 84.1 M1071.1 105.9 L1072.1 106.7 L1073.2 107.6 L1074.2 108.5 L1075.3 109.3 L1076.4 110.2 L1077.4 111.1 L1078.5 112.0 L1079.5 112.9 L1080.6 113.8 L1081.7 114.8 L1082.7 115.7 L1083.8 116.7 L1084.9 117.6 L1085.9 118.6 L1087.0 119.5 L1088.1 120.5 L1089.1 121.5 L1090.2 122.5 L1091.3 123.5 L1092.3 124.5 L1092.9 125.0 M1122.7 154.5 L1123.7 155.6 L1124.8 156.7 L1125.9 157.7 L1126.9 158.8 L1128.0 159.9 L1129.1 160.9 L1130.1 162.0 L1131.2 163.1 L1132.3 164.1 L1133.3 165.2 L1134.4 166.3 L1135.5 167.3 L1136.5 168.4 L1137.6 169.4 L1138.7 170.5 L1139.7 171.5 L1140.8 172.6 L1141.9 173.6 L1142.9 174.7 L1144.0 175.7 L1144.2 175.9 M1174.2 204.3 L1175.3 205.3 L1176.3 206.2 L1177.4 207.2 L1178.5 208.1 L1179.5 209.1 L1180.6 210.0 L1181.7 210.9 L1182.7 211.9 L1183.8 212.8 L1184.9 213.7 L1185.9 214.6 L1187.0 215.5 L1188.0 216.4 L1189.1 217.3 L1190.2 218.2 L1191.2 219.1 L1192.3 219.9 L1193.4 220.8 L1194.4 221.6 L1195.5 222.5 L1196.1 223.0 M1227.1 244.1 L1228.1 244.6 L1228.4 244.8 M1228.4 244.8 L1229.4 245.4 L1230.5 246.0 L1231.6 246.6 L1232.6 247.2 L1233.7 247.7 L1234.8 248.3 L1235.8 248.9 L1236.9 249.4 L1238.0 250.0 L1239.0 250.6 L1240.1 251.1 L1241.2 251.6 L1242.2 252.2 L1243.3 252.7 L1244.4 253.2 L1245.4 253.7 L1246.5 254.2 L1247.6 254.7 L1248.6 255.2 L1249.7 255.7 L1250.7 256.2 L1251.0 256.3 M1282.3 268.6 L1283.4 268.9 L1284.4 269.3 L1285.5 269.6 L1286.6 270.0 L1287.6 270.3 L1288.7 270.6 L1289.8 270.9 L1290.8 271.2 L1291.9 271.6 L1292.9 271.9 L1294.0 272.2 L1295.1 272.5 L1296.1 272.8 L1297.2 273.0 L1298.3 273.3 L1299.3 273.6 L1300.4 273.9 L1301.5 274.1 L1302.5 274.4 L1303.6 274.7 L1304.7 274.9 L1304.9 275.0 M1336.2 280.6 L1337.3 280.7 L1338.3 280.9 L1339.4 281.0 L1340.5 281.1 L1341.5 281.3 L1342.6 281.4 L1343.7 281.5 L1344.7 281.6 L1345.8 281.8 L1346.9 281.9 L1347.9 282.0 L1349.0 282.1 L1350.1 282.2 L1351.1 282.4 L1352.2 282.5 L1353.3 282.6 L1354.3 282.7 L1355.4 282.8 L1356.5 283.0 L1357.5 283.1 L1358.6 283.2 L1358.8 283.2"/>
<path stroke="#ff00ff" d="M856.2 20.6 L857.2 20.7 L858.3 20.7 L859.4 20.7 L860.4 20.7 L861.5 20.7 L862.6 20.8 L863.6 20.8 L864.7 20.8 L865.8 20.8 L866.8 20.8 L867.9 20.8 L868.9 20.9 L870.0 20.9 L871.1 20.9 L872.1 20.9 L873.2 21.0 L874.3 21.0 L875.3 21.0 L876.4 21.0 L877.5 21.0 L878.5 21.1 L879.6 21.1 L880.7 21.1 L881.7 21.1 L882.8 21.2 L883.5 21.2 M902.1 21.6 L903.2 21.6 L904.2 21.7 L905.3 21.7 L905.5 21.7 M923.9 22.3 L925.0 22.3 L926.1 22.3 L927.1 22.4 L928.2 22.4 L929.3 22.5 L930.3 22.5 L931.4 22.5 L932.4 22.6 L933.5 22.6 L934.6 22.6 L935.6 22.7 L936.7 22.7 L937.8 22.8 L938.8 22.8 L939.9 22.8 L941.0 22.9 L942.0 22.9 L943.1 23.0 L944.2 23.0 L945.2 23.1 L946.3 23.1 L947.4 23.2 L948.4 23.2 L949.5 23.2 L950.6 23.3 L951.2 23.3 M969.8 24.2 L970.9 24.3 L972.0 24.3 L973.0 24.4 L973.2 24.4 M991.6 25.5 L992.6 25.6 L993.7 25.7 L994.7 25.8 L995.8 25.9 L996.9 25.9 L997.9 26.0 L999.0 26.1 L1000.1 26.2 L1001.1 26.3 L1002.2 26.3 L1003.3 26.4 L1004.3 26.5 L1005.4 26.6 L1006.5 26.7 L1007.5 26.8 L1008.6 26.9 L1009.7 27.0 L1010.7 27.1 L1011.8 27.2 L1012.9 27.3 L1013.9 27.4 L1015.0 27.5 L1016.0 27.6 L1017.1 27.7 L1018.2 27.8 L1018.9 27.8 M1037.5 29.9 L1038.5 30.1 L1039.6 30.2 L1040.7 30.3 L1040.9 30.4 M1059.3 33.0 L1060.4 33.2 L1061.4 33.4 L1062.5 33.6 L1063.6 33.7 L1064.6 33.9 L1065.7 34.1 L1066.8 34.3 L1067.8 34.5 L1068.9 34.7 L1070.0 34.9 L1071.0 35.1 L1072.1 35.3 L1073.2 35.5 L1074.2 35.7 L1075.3 35.9 L1076.4 36.1 L1077.4 36.3 L1078.5 36.5 L1079.5 36.7 L1080.6 37.0 L1081.7 37.2 L1082.7 37.4 L1083.8 37.6 L1084.9 37.9 L1085.9 38.1 L1086.6 38.3 M1105.2 43.1 L1106.3 43.5 L1107.4 43.8 L1108.4 44.1 L1108.6 44.1 M1127.0 50.6 L1128.0 51.0 L1129.1 51.4 L1130.1 51.8 L1131.2 52.3 L1132.3 52.7 L1133.3 53.2 L1134.4 53.6 L1135.5 54.1 L1136.5 54.6 L1137.6 55.1 L1138.7 55.5 L1139.7 56.0 L1140.8 56.5 L1141.9 57.1 L1142.9 57.6 L1144.0 58.1 L1145.0 58.7 L1146.1 59.2 L1147.2 59.8 L1148.2 60.3 L1149.3 60.9 L1150.4 61.5 L1151.4 62.1 L1152.5 62.7 L1153.6 63.3 L1154.3 63.7 M1172.7 76.1 L1173.8 77.0 L1174.9 77.8 L1175.9 78.7 L1176.0 78.8 M1193.6 95.3 L1194.6 96.4 L1195.5 97.4 L1196.4 98.4 L1197.4 99.5 L1198.3 100.6 L1199.2 101.7 L1200.2 102.8 L1201.1 103.9 L1202.0 105.0 L1203.0 106.2 L1203.8 107.2 L1204.6 108.2 L1205.4 109.2 L1206.2 110.3 L1207.0 111.3 L1207.7 112.4 L1208.5 113.4 L1209.3 114.5 L1210.1 115.6 L1210.9 116.7 L1211.7 117.8 L1212.5 118.9 L1213.3 120.1 L1214.1 121.2 L1214.7 121.9 M1226.8 140.4 L1227.5 141.5 L1228.1 142.5 L1228.4 143.0 M1228.6 143.3 L1229.3 144.5 L1230.0 145.6 L1230.6 146.6 L1231.3 147.7 L1232.0 148.8 L1232.6 149.9 L1233.3 151.0 L1234.0 152.1 L1234.6 153.3 L1235.3 154.4 L1236.0 155.5 L1236.6 156.6 L1237.3 157.7 L1238.0 158.9 L1238.6 160.0 L1239.3 161.1 L1240.0 162.3 L1240.6 163.4 L1241.3 164.6 L1242.0 165.7 L1242.6 166.9 L1243.3 168.0 L1244.0 169.2 L1244.6 170.3 L1244.8 170.6 M1255.3 189.2 L1255.9 190.3 L1256.6 191.4 L1257.2 192.6 M1267.7 211.0 L1268.3 212.1 L1269.0 213.2 L1269.7 214.4 L1270.3 215.5 L1271.0 216.7 L1271.6 217.8 L1272.3 219.0 L1273.0 220.1 L1273.6 221.2 L1274.3 222.3 L1275.0 223.4 L1275.6 224.5 L1276.3 225.6 L1277.0 226.7 L1277.6 227.8 L1278.3 228.9 L1279.0 230.0 L1279.6 231.0 L1280.3 232.1 L1281.0 233.2 L1281.6 234.2 L1282.3 235.2 L1283.0 236.3 L1283.6 237.3 L1284.2 238.2 M1297.2 256.6 L1298.0 257.6 L1298.8 258.6 L1299.6 259.6 L1299.8 259.9 M1315.5 277.7 L1316.5 278.7 L1317.6 279.8 L1318.6 280.8 L1319.7 281.8 L1320.8 282.8 L1321.8 283.8 L1322.9 284.8 L1324.0 285.8 L1325.0 286.7 L1326.1 287.6 L1327.2 288.5 L1328.2 289.4 L1329.3 290.3 L1330.4 291.2 L1331.4 292.0 L1332.5 292.9 L1333.6 293.7 L1334.6 294.5 L1335.7 295.3 L1336.7 296.0 L1337.8 296.8 L1338.9 297.6 L1339.9 298.3 L1341.0 299.0 L1342.0 299.7 M1360.6 309.9 L1361.6 310.4 L1362.7 310.9 L1363.8 311.3 L1364.0 311.4 M1382.4 318.6 L1383.5 319.0 L1384.5 319.4 L1385.6 319.7 L1386.7 320.1 L1387.7 320.5 L1388.4 320.7"/>
<path stroke="#800000" d="M856.3 19.9 L857.4 20.0 L858.4 20.0 L859.5 20.0 L860.6 20.0 L861.6 20.0 L862.7 20.0 L863.8 20.1 L864.8 20.1 L865.9 20.1 L866.9 20.1 L868.0 20.1 L869.1 20.1 L870.1 20.2 L871.2 20.2 L872.3 20.2 L873.3 20.2 L874.4 20.2 L875.5 20.2 L876.1 20.3 M894.6 20.6 L895.7 20.6 L896.8 20.6 L897.7 20.7 M915.9 21.0 L917.0 21.1 L918.1 21.1 L919.1 21.1 L919.2 21.1 M937.8 21.6 L938.8 21.6 L939.9 21.6 L941.0 21.7 L942.0 21.7 L943.1 21.7 L944.2 21.7 L945.2 21.8 L946.3 21.8 L947.4 21.8 L948.4 21.9 L949.5 21.9 L950.6 21.9 L951.6 21.9 L952.7 22.0 L953.7 22.0 L954.8 22.0 L955.9 22.1 L956.9 22.1 L957.5 22.1 M976.0 22.7 L977.2 22.8 L978.2 22.8 L979.1 22.8 M997.3 23.6 L998.5 23.6 L999.5 23.7 L1000.6 23.7 L1000.6 23.7 M1019.2 24.8 L1020.3 24.8 L1021.4 24.9 L1022.4 25.0 L1023.5 25.0 L1024.6 25.1 L1025.6 25.2 L1026.7 25.3 L1027.8 25.3 L1028.8 25.4 L1029.9 25.5 L1031.0 25.6 L1032.0 25.6 L1033.1 25.7 L1034.2 25.8 L1035.2 25.9 L1036.3 26.0 L1037.3 26.0 L1038.4 26.1 L1039.0 26.2 M1057.5 27.9 L1058.5 28.0 L1059.6 28.1 L1060.6 28.2 M1078.8 30.4 L1079.8 30.6 L1080.9 30.7 L1081.9 30.9 L1082.1 30.9 M1100.7 33.9 L1101.8 34.2 L1102.8 34.4 L1103.9 34.6 L1105.0 34.8 L1106.0 35.0 L1107.1 35.2 L1108.2 35.4 L1109.2 35.6 L1110.3 35.9 L1111.4 36.1 L1112.4 36.3 L1113.5 36.6 L1114.6 36.8 L1115.6 37.1 L1116.7 37.3 L1117.8 37.6 L1118.8 37.8 L1119.9 38.1 L1120.5 38.2 M1139.0 43.4 L1140.0 43.8 L1141.1 44.2 L1142.0 44.5 M1160.2 52.2 L1161.3 52.7 L1162.4 53.3 L1163.4 53.8 L1163.5 53.9 M1181.9 66.0 L1183.0 66.9 L1184.1 67.7 L1185.1 68.6 L1186.2 69.6 L1187.2 70.5 L1188.3 71.5 L1189.4 72.4 L1190.4 73.4 L1191.5 74.5 L1192.6 75.5 L1193.6 76.6 L1194.7 77.8 L1195.6 78.8 L1196.6 79.8 L1197.5 80.9 L1198.4 82.0 L1199.4 83.1 L1200.1 84.0 M1212.2 102.4 L1212.8 103.5 L1213.3 104.5 L1213.8 105.5 M1222.1 123.7 L1222.5 124.7 L1222.9 125.7 L1223.3 126.7 L1223.4 127.0 M1228.5 141.3 L1228.9 142.5 L1229.3 143.7 L1229.7 144.9 L1230.1 146.2 L1230.5 147.5 L1230.9 148.7 L1231.3 150.0 L1231.7 151.4 L1232.1 152.7 L1232.5 154.0 L1232.9 155.4 L1233.3 156.8 L1233.7 158.2 L1234.1 159.6 L1234.5 161.0 L1234.5 161.1 M1239.4 179.6 L1239.7 180.8 L1240.0 181.9 L1240.2 182.7 M1244.4 200.9 L1244.6 202.0 L1244.9 203.2 L1245.1 204.2 M1249.1 222.7 L1249.4 224.3 L1249.7 225.6 L1250.0 226.8 L1250.2 228.1 L1250.5 229.4 L1250.7 230.6 L1251.0 231.9 L1251.3 233.2 L1251.5 234.4 L1251.8 235.7 L1252.1 237.0 L1252.3 238.3 L1252.6 239.5 L1252.9 240.8 L1253.1 242.0 L1253.2 242.5 M1257.2 261.0 L1257.5 262.6 L1257.8 263.8 L1257.9 264.1 M1262.0 282.3 L1262.3 283.8 L1262.6 284.9 L1262.8 285.6 M1267.3 304.2 L1267.7 305.4 L1267.9 306.4 L1268.2 307.4 L1268.6 308.9 L1269.0 310.4 L1269.4 311.8 L1269.8 313.3 L1270.2 314.7 L1270.6 316.1 L1271.0 317.5 L1271.4 318.9 L1271.8 320.2 L1272.2 321.6 L1272.6 322.9 L1272.9 324.0 M1279.0 342.5 L1279.5 343.8 L1279.9 344.8 L1280.2 345.6 M1287.8 363.8 L1288.4 365.0 L1289.0 366.1 L1289.4 367.1 M1300.3 385.6 L1301.1 386.6 L1301.9 387.7 L1302.7 388.8 L1303.5 389.9 L1304.3 390.9 L1305.1 391.9 L1306.0 393.0 L1306.9 394.1 L1307.9 395.2 L1308.8 396.3 L1309.7 397.3 L1310.8 398.4 L1311.9 399.5 L1312.9 400.6 L1314.0 401.6 L1315.0 402.6 L1316.1 403.6 L1317.1 404.4 M1335.4 416.9 L1336.5 417.5 L1337.5 418.1 L1338.5 418.6 M1356.7 426.7 L1357.8 427.1 L1358.8 427.5 L1359.9 427.8 L1360.0 427.9 M1378.5 432.7 L1379.6 432.8 L1380.7 433.0 L1381.7 433.2 L1382.8 433.3 L1383.9 433.5 L1384.9 433.6 L1386.0 433.7 L1387.1 433.9 L1388.1 434.0 L1388.4 434.0"/>
</g>
<g stroke="#000" stroke-width="2.4" fill="none" stroke-linecap="butt">
<rect x="855.9" y="18.9" width="532.5" height="432.1"/>
<path d="M855.9 451.0V460.3M989.0 451.0V460.3M1122.2 451.0V460.3M1255.3 451.0V460.3M1388.4 451.0V460.3M922.5 451.0V456.3M1055.6 451.0V456.3M1188.7 451.0V456.3M1321.8 451.0V456.3M855.9 362.0H846.6M855.9 247.7H846.6M855.9 133.3H846.6M855.9 18.9H846.6M855.9 419.2H850.5M855.9 304.8H850.5M855.9 190.5H850.5M855.9 76.1H850.5"/>
</g>
<g font-size="33.8" fill="#000">
<text transform="translate(855.9 491.9) scale(1 1.01)" text-anchor="middle">5</text>
<text transform="translate(989.0 491.9) scale(1 1.01)" text-anchor="middle">6</text>
<text transform="translate(1122.2 491.9) scale(1 1.01)" text-anchor="middle">7</text>
<text transform="translate(1255.3 491.9) scale(1 1.01)" text-anchor="middle">8</text>
<text transform="translate(1388.4 491.9) scale(1 1.01)" text-anchor="middle">9</text>
<text transform="translate(841.9 370.9) scale(1 1.01)" text-anchor="end">135</text>
<text transform="translate(841.9 256.6) scale(1 1.01)" text-anchor="end">180</text>
<text transform="translate(841.9 142.2) scale(1 1.01)" text-anchor="end">225</text>
<text transform="translate(841.9 27.8) scale(1 1.01)" text-anchor="end">270</text>
</g>
<g fill="none" stroke-width="6.7" stroke-linecap="round">
<path stroke="#ff0000" d="M859.9 297.6H935.1"/>
<path stroke="#0000ff" d="M859.9 339.2H882.5M913.8 339.2H935.1"/>
<path stroke="#ff00ff" d="M860.1 380.7H887.5M906.1 380.7H909.5M927.9 380.7H935.1"/>
<path stroke="#800000" d="M860.2 422.1H880.1M898.6 422.1H901.6M919.9 422.1H923.1"/>
</g>
<g font-size="33.8" fill="#000">
<text transform="translate(943.9 308.7) scale(1 1.02)">Mode 1</text>
<text transform="translate(943.9 350.3) scale(1 1.02)">Mode 2</text>
<text transform="translate(943.9 391.8) scale(1 1.02)">Mode 3</text>
<text transform="translate(943.9 433.2) scale(1 1.02)">Mode 4</text>
</g>
<text font-size="45.7" transform="translate(1122.7 537.8) scale(1 1.02)" text-anchor="middle">Frequency(GHz)</text>
<text font-size="45.7" transform="translate(771.1 248.9) rotate(-90) scale(1 1.02)" text-anchor="middle">Char.Angle(Deg)</text>
<g class="cap" font-family="'Liberation Serif', 'Times New Roman', serif" font-size="47" text-anchor="middle"><text x="390.2" y="621.5">(a)</text><text x="1132.4" y="621.5">(b)</text></g>
</svg>
</body></html>
